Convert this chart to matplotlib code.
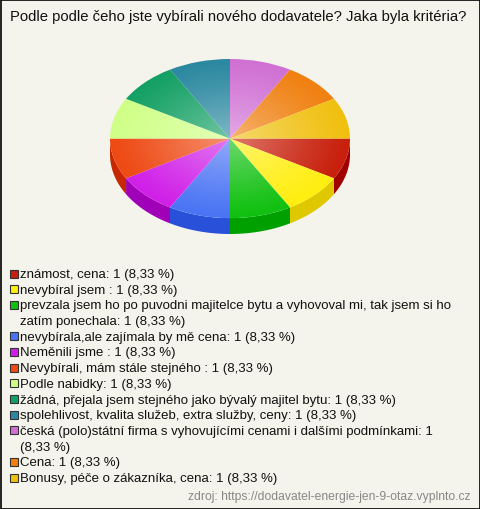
import textwrap
import numpy as np
from matplotlib import pyplot as plt
from matplotlib import patches

plt.rcParams['font.family'] = ['Liberation Sans', 'DejaVu Sans']

title = 'Podle podle čeho jste vybírali nového dodavatele? Jaka byla kritéria?'
source = 'zdroj: https://dodavatel-energie-jen-9-otaz.vyplnto.cz'

categories = [
    'známost, cena',
    'nevybíral jsem ',
    'prevzala jsem ho po puvodni majitelce bytu a vyhovoval mi, tak jsem si ho zatím ponechala',
    'nevybírala,ale zajímala by mě cena',
    'Neměnili jsme ',
    'Nevybírali, mám stále stejného ',
    'Podle nabidky',
    'žádná, přejala jsem stejného jako bývalý majitel bytu',
    'spolehlivost, kvalita služeb, extra služby, ceny',
    'česká (polo)státní firma s vyhovujícími cenami i dalšími podmínkami',
    'Cena',
    'Bonusy, péče o zákazníka, cena',
]
values = [1, 1, 1, 1, 1, 1, 1, 1, 1, 1, 1, 1]
colors = ['#c8200c', '#ffee10', '#10c010', '#4a74f4', '#d020e8', '#ee4a14',
          '#d0ff88', '#14a064', '#2a88a0', '#d070d4', '#f08010', '#f0c010']
side_colors = ['#a00000', '#e0c800', '#00a000', '#2850d8', '#a000b8', '#c82800',
               '#a8d060', '#0a7048', '#1a5870', '#a050a0', '#c05800', '#c09000']

W, H = 480, 510
bg = '#f4f4ec'
fig = plt.figure(figsize=(W / 100, H / 100), dpi=100)
fig.patch.set_facecolor(bg)

# pie axes, squashed so the circle becomes an ellipse
depth = 0.2
px_l, px_r, px_t, px_b = 110, 350, 60, 235
ax = fig.add_axes([px_l / W, (H - px_b) / H, (px_r - px_l) / W, (px_b - px_t) / H])
wedges, _ = ax.pie(values, colors=colors, startangle=0, counterclock=False,
                   wedgeprops=dict(linewidth=0, edgecolor='none'))
ax.set_aspect('auto')
ax.set_xlim(-1, 1)
ax.set_ylim(-1 - depth, 1)
ax.axis('off')

# side wall for the front (lower) half
for w, sc in zip(wedges, side_colors):
    t1, t2 = w.theta1 % 360, w.theta2 % 360
    if t2 <= t1:
        t2 += 360
    a = max(t1, 180)
    b = min(t2, 360)
    if b <= a:
        continue
    t = np.radians(np.linspace(a, b, 30))
    xs = np.concatenate([np.cos(t), np.cos(t[::-1])])
    ys = np.concatenate([np.sin(t), np.sin(t[::-1]) - depth])
    ax.add_patch(patches.Polygon(np.column_stack([xs, ys]), closed=True,
                                 facecolor=sc, edgecolor='none', zorder=0))

# light radial shading on the top face
gx, gy = np.meshgrid(np.linspace(-1, 1, 300), np.linspace(-1, 1, 300))
r = np.clip(np.sqrt(gx ** 2 + gy ** 2), 0, 1)
shade = np.zeros((300, 300, 4))
shade[..., :3] = 1.0
shade[..., 3] = 0.4 * (1 - r) ** 1.2
im = ax.imshow(shade, extent=(-1, 1, -1, 1), origin='lower', zorder=3,
               interpolation='bilinear')
im.set_clip_path(patches.Ellipse((0, 0), 2, 2, transform=ax.transData))
ax.set_xlim(-1, 1)
ax.set_ylim(-1 - depth, 1)
ax.set_aspect('auto')

# overlay in pixel coordinates for texts and legend
lax = fig.add_axes([0, 0, 1, 1])
lax.set_xlim(0, W)
lax.set_ylim(H, 0)
lax.axis('off')
lax.patch.set_alpha(0)

lax.add_patch(patches.Rectangle((0.5, 0.5), W - 1, H - 1, facecolor='none',
                                edgecolor='black', linewidth=1.2))
lax.text(10, 17, title, fontsize=10.7, color='#111111', va='center', ha='left')

total = sum(values)
y = 275
step = 15.7
for cat, v, c, sc in zip(categories, values, colors, side_colors):
    pct = ('%.2f' % (v / total * 100)).replace('.', ',')
    label = '%s: %d (%s %%)' % (cat, v, pct)
    lines = textwrap.wrap(label, 73, drop_whitespace=False)
    lax.add_patch(patches.Rectangle((9.5, y - 4.5), 8, 8, facecolor=c,
                                    edgecolor='#333333', linewidth=0.8))
    for line in lines:
        lax.text(20, y, line.strip(), fontsize=9.5, color='#111111',
                 va='center', ha='left')
        y += step

lax.text(470, 497, source, fontsize=8.7, color='#888888', va='center', ha='right')

fig.savefig('out.png', dpi=100, facecolor=bg)
